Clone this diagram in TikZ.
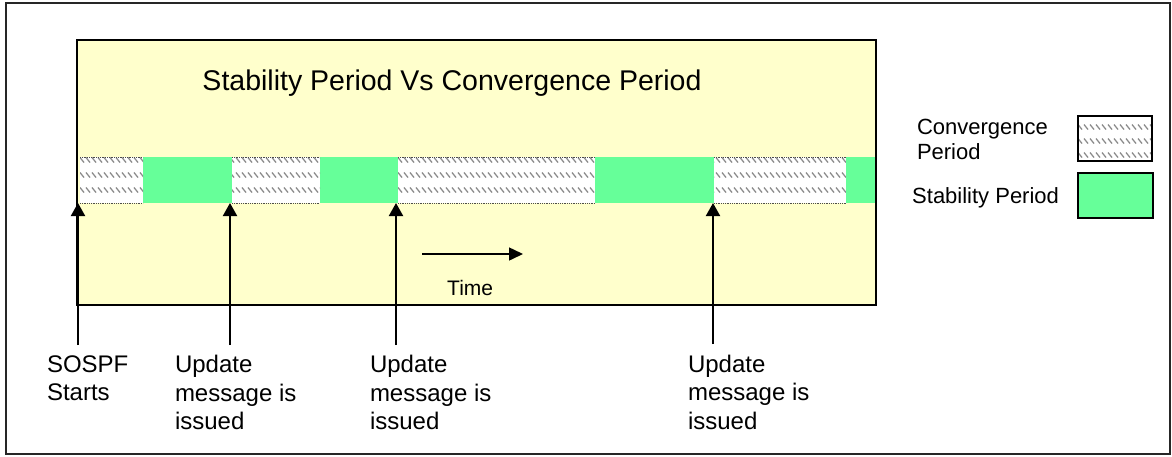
\documentclass[tikz,border=0pt]{standalone}
\usepackage{fontspec}
\setmainfont{Liberation Sans}
\usetikzlibrary{arrows.meta}
\definecolor{paleyellow}{HTML}{FFFFCC}
\definecolor{stabgreen}{HTML}{66FF99}
\definecolor{hatchgray}{HTML}{8C8C8C}
\begin{document}
\begin{tikzpicture}[x=1pt,y=-1pt,
  box/.style={inner sep=0pt, outer sep=0pt},
  seg/.style={box, anchor=west, minimum height=46pt},
  stab/.style={seg, fill=stabgreen},
  conv/.style={seg, fill=white},
  hatch/.style={hatchgray, line width=1.3pt},
  segedge/.style={densely dotted, black!70, line width=0.8pt},
  txt/.style={inner sep=0pt, outer sep=0pt, align=left, anchor=north west},
  lbl/.style={txt, font=\fontsize{24}{28.5}\selectfont},
  evt/.style={line width=2pt, -{Triangle[width=14pt,length=13pt]}},
]
\useasboundingbox (0,0) rectangle (1172,456);
% frames
\node[box, draw=black!85, line width=2pt, minimum width=1164pt, minimum height=451pt] (frame) at (588,228.5) {};
\node[box, draw=black, fill=paleyellow, line width=1.5pt, minimum width=799pt, minimum height=265pt] (panel) at (476.5,172.5) {};
% bar segments
\node[conv, minimum width=63pt]  (c1) at (80,180) {};
\node[stab, minimum width=89pt]  (s1) at (143,180) {};
\node[conv, minimum width=88pt]  (c2) at (232,180) {};
\node[stab, minimum width=78pt]  (s2) at (320,180) {};
\node[conv, minimum width=197pt] (c3) at (398,180) {};
\node[stab, minimum width=119pt] (s3) at (595,180) {};
\node[conv, minimum width=132pt] (c4) at (714,180) {};
\node[stab, minimum width=29.5pt] (s4) at (846,180) {};
\begin{scope}
  \clip (c1.north west) rectangle (c1.south east)
        (c2.north west) rectangle (c2.south east)
        (c3.north west) rectangle (c3.south east)
        (c4.north west) rectangle (c4.south east);
  \foreach \y in {160,175,190}{
    \foreach \x in {74,80,...,876}{
      \draw[hatch] (\x,\y-2.5) -- (\x+4,\y+2.5);
    }
  }
\end{scope}
\foreach \n in {c1,c2,c3,c4}{
  \draw[segedge] (\n.north west) -- (\n.north east);
  \draw[segedge] (\n.south west) -- (\n.south east);
}
\draw[line width=1.5pt] (panel.north west) rectangle (panel.south east);
% title
\node[inner sep=0pt, anchor=base, font=\fontsize{28.5}{34}\selectfont] (title) at (452,90) {Stability Period Vs Convergence Period};
% time arrow
\coordinate (t0) at (422,254);
\coordinate (t1) at (523,254);
\draw[line width=1.5pt, -{Triangle[width=13pt,length=14pt]}] (t0) -- (t1);
\node[inner sep=0pt, anchor=base west, font=\fontsize{21}{25}\selectfont] (time) at (447,295) {Time};
% event arrows
\coordinate (e0b) at (78,345);  \coordinate (e0t) at (78,203);
\coordinate (e1b) at (230,345); \coordinate (e1t) at (230,203);
\coordinate (e2b) at (396,345); \coordinate (e2t) at (396,203);
\coordinate (e3b) at (713,344); \coordinate (e3t) at (713,203);
\draw[evt] (e0b) -- (e0t);
\draw[evt] (e1b) -- (e1t);
\draw[evt] (e2b) -- (e2t);
\draw[evt] (e3b) -- (e3t);
% event labels
\node[lbl] (sospf) at (47,355.5) {SOSPF\\Starts};
\node[lbl] (upd1) at (175,355.5) {Update\\message is\\issued};
\node[lbl] (upd2) at (370,355.5) {Update\\message is\\issued};
\node[lbl] (upd3) at (688,355) {Update\\message is\\issued};
% legend
\node[txt, font=\fontsize{22}{25}\selectfont] (lconvtxt) at (917,119) {Convergence\\Period};
\node[inner sep=0pt, anchor=base west, font=\fontsize{22}{26}\selectfont] (lstabtxt) at (912,203) {Stability Period};
\node[box, fill=white, minimum width=74pt, minimum height=45pt] (lconv) at (1115,138.5) {};
\begin{scope}
  \clip (lconv.north west) rectangle (lconv.south east);
  \foreach \y in {127,141,155}{
    \foreach \x in {1072,1078,...,1156}{
      \draw[hatch] (\x,\y-2.5) -- (\x+4,\y+2.5);
    }
  }
\end{scope}
\draw[line width=1.5pt] (lconv.north west) rectangle (lconv.south east);
\node[box, draw=black, line width=1.5pt, fill=stabgreen, minimum width=75pt, minimum height=45pt] (lstab) at (1115.5,195.5) {};
\end{tikzpicture}
\end{document}
